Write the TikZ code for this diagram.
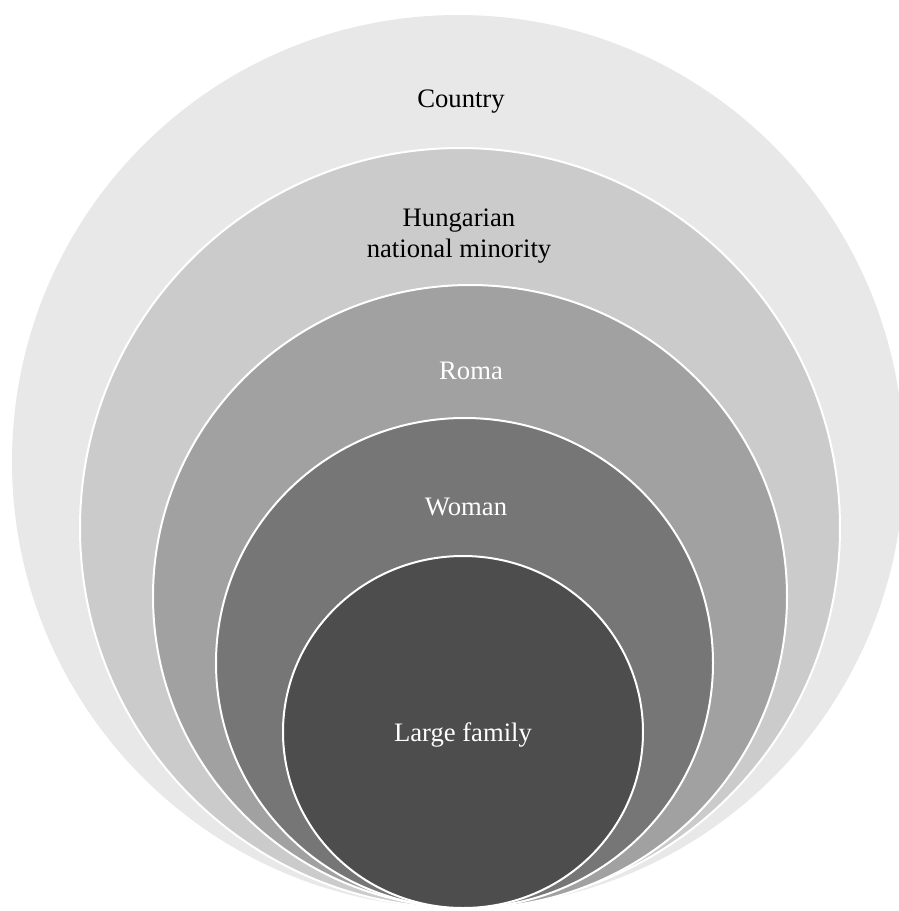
\documentclass[tikz,border=0pt]{standalone}
\usepackage{fontspec}
\setmainfont{Liberation Serif}
\usepackage{tikz}
\usetikzlibrary{positioning}

\definecolor{ring1}{HTML}{E8E8E8}
\definecolor{ring2}{HTML}{CBCBCB}
\definecolor{ring3}{HTML}{A1A1A1}
\definecolor{ring4}{HTML}{767676}
\definecolor{ring5}{HTML}{4D4D4D}

\begin{document}
\begin{tikzpicture}[%
        x=0.75pt,
        y=-0.75pt,
        ring/.style={%
            draw=white,
            line width=1.5pt,
        },
        ringlabel/.style={%
            align=center,
            inner sep=0pt,
            node font=\fontsize{20}{23}\selectfont,
        },
    ]

    \useasboundingbox (0,0) rectangle (899,911);

    % the outer ring has no white edge
    \fill[ring1] (458,461.5) ellipse [x radius=446, y radius=446.5];

    \foreach \cx/\cy/\rx/\ry/\shade in {%
            460/528/380/380/ring2,
            470/596.5/317/311.5/ring3,
            464.5/663/248.5/245/ring4,
            463/732/180/176/ring5} {%
        \draw[ring, fill=\shade] (\cx,\cy) ellipse [x radius=\rx, y radius=\ry];
    }

    \node (country_label) at (461,102) [ringlabel] {Country};
    \node (minority_label) at (459,236) [ringlabel] {Hungarian\\national minority};
    \node (roma_label) at (471,371) [ringlabel, text=white] {Roma};
    \node (woman_label) at (466,507) [ringlabel, text=white] {Woman};
    \node (family_label) at (463,735) [ringlabel, text=white] {Large family};
\end{tikzpicture}
\end{document}
